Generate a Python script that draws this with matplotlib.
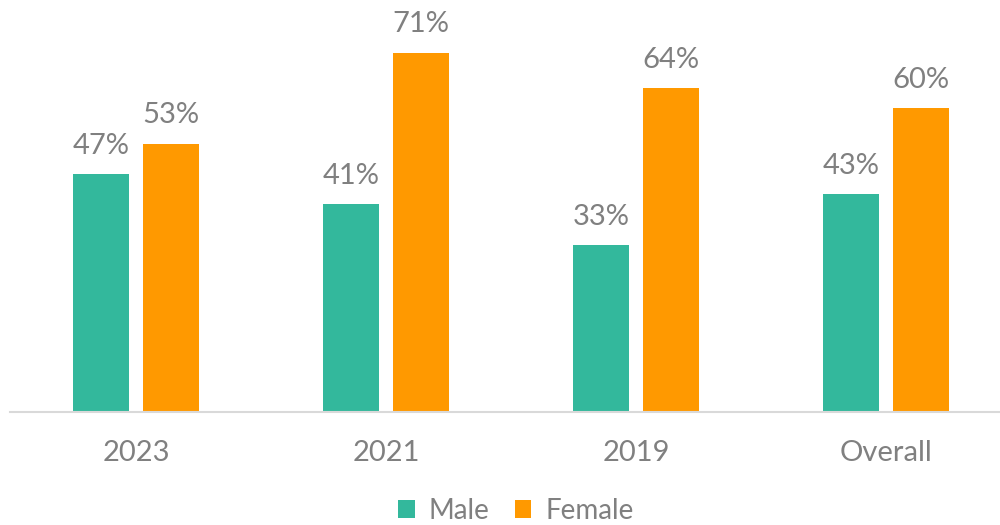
import matplotlib.pyplot as plt
import numpy as np

categories = ["2023", "2021", "2019", "Overall"]
male = [47, 41, 33, 43]
female = [53, 71, 64, 60]

teal = "#33B89C"
orange = "#FF9900"
gray = "#808080"

plt.rcParams["font.family"] = ["Lato", "DejaVu Sans"]

fig = plt.figure(figsize=(10, 5.25), dpi=100)
ax = fig.add_axes([0.01, 1 - 412 / 525, 0.99, 405 / 525])

x = np.arange(len(categories))
w = 0.224
b1 = ax.bar(x - 0.14, male, w, color=teal, label="Male")
b2 = ax.bar(x + 0.14, female, w, color=orange, label="Female")

for bars in (b1, b2):
    for bar in bars:
        h = bar.get_height()
        ax.annotate(f"{h:.0f}%", (bar.get_x() + bar.get_width() / 2, h),
                    xytext=(0, 11), textcoords="offset points",
                    ha="center", va="bottom", fontsize=21, color=gray)

ax.set_xlim(-0.504, 3.456)
ax.set_ylim(0, 80)
ax.set_xticks(x)
ax.set_xticklabels(categories, fontsize=21, color=gray)
ax.tick_params(axis="x", length=0, pad=20)
ax.set_yticks([])
for s in ["top", "right", "left"]:
    ax.spines[s].set_visible(False)
ax.spines["bottom"].set_color("#D9D9D9")
ax.spines["bottom"].set_linewidth(1.5)

leg = fig.legend(loc="center", bbox_to_anchor=(0.516, 1 - 511 / 525),
                 ncol=2, frameon=False, fontsize=20, handlelength=0.6,
                 handleheight=0.6, handletextpad=0.5, columnspacing=0.9)
for t in leg.get_texts():
    t.set_color(gray)

fig.savefig("out.png", dpi=100)
